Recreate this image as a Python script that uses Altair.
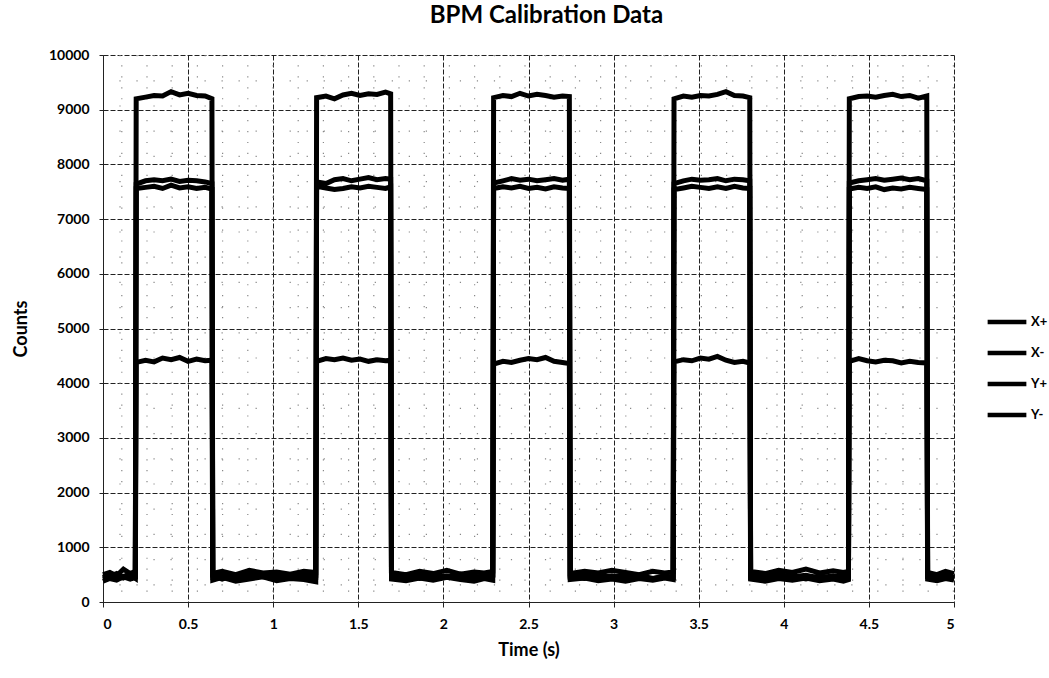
import altair as alt
import pandas as pd

# ---- data ----
t_low0 = [0.00, 0.04, 0.08, 0.12, 0.16, 0.19]
t_high1 = [0.195, 0.25, 0.30, 0.35, 0.40, 0.45, 0.50, 0.55, 0.60, 0.64]
t_low1 = [0.645, 0.70, 0.78, 0.86, 0.94, 1.02, 1.10, 1.18, 1.25]
t_high2 = [1.255, 1.31, 1.36, 1.41, 1.46, 1.51, 1.56, 1.61, 1.66, 1.69]
t_low2 = [1.695, 1.78, 1.86, 1.94, 2.02, 2.10, 2.18, 2.24, 2.29]
t_high3 = [2.295, 2.35, 2.40, 2.45, 2.50, 2.55, 2.60, 2.65, 2.70, 2.74]
t_low3 = [2.745, 2.83, 2.91, 2.99, 3.07, 3.15, 3.23, 3.30, 3.35]
t_high4 = [3.355, 3.41, 3.46, 3.51, 3.56, 3.61, 3.66, 3.71, 3.76, 3.80]
t_low4 = [3.805, 3.89, 3.97, 4.05, 4.13, 4.21, 4.29, 4.35, 4.38]
t_high5 = [4.385, 4.44, 4.49, 4.54, 4.59, 4.64, 4.69, 4.74, 4.79, 4.84]
t_low5 = [4.845, 4.90, 4.95, 5.00]

time = (t_low0 + t_high1 + t_low1 + t_high2 + t_low2 + t_high3 +
        t_low3 + t_high4 + t_low4 + t_high5 + t_low5)

x_plus = ([500, 540, 480, 600, 520, 560] +
          [9200, 9230, 9260, 9250, 9330, 9270, 9300, 9260, 9250, 9200] +
          [520, 560, 500, 580, 530, 550, 510, 560, 540] +
          [9220, 9250, 9200, 9270, 9300, 9260, 9290, 9280, 9320, 9290] +
          [540, 500, 560, 520, 580, 510, 550, 530, 560] +
          [9220, 9260, 9240, 9300, 9250, 9280, 9260, 9230, 9250, 9240] +
          [520, 560, 530, 580, 540, 500, 560, 530, 550] +
          [9200, 9250, 9230, 9260, 9250, 9280, 9330, 9260, 9250, 9220] +
          [560, 520, 580, 540, 600, 530, 570, 540, 560] +
          [9200, 9240, 9250, 9230, 9260, 9280, 9240, 9260, 9210, 9250] +
          [540, 500, 560, 520])

x_minus = ([450, 500, 430, 470, 510, 480] +
           [7640, 7700, 7720, 7700, 7730, 7690, 7710, 7700, 7680, 7650] +
           [450, 480, 430, 500, 460, 420, 470, 440, 480] +
           [7680, 7650, 7720, 7740, 7700, 7730, 7760, 7720, 7740, 7730] +
           [470, 440, 490, 450, 480, 430, 470, 450, 490] +
           [7660, 7700, 7740, 7710, 7730, 7700, 7720, 7740, 7710, 7730] +
           [460, 490, 440, 480, 450, 490, 430, 470, 450] +
           [7650, 7700, 7730, 7710, 7720, 7740, 7700, 7730, 7720, 7700] +
           [480, 450, 500, 460, 490, 440, 480, 450, 470] +
           [7660, 7700, 7720, 7740, 7710, 7730, 7750, 7720, 7740, 7700] +
           [460, 430, 480, 450])

y_plus = ([420, 470, 520, 440, 490, 430] +
          [7560, 7580, 7600, 7560, 7620, 7570, 7590, 7560, 7580, 7550] +
          [400, 450, 380, 420, 460, 390, 430, 410, 370] +
          [7600, 7570, 7540, 7560, 7590, 7570, 7600, 7580, 7560, 7590] +
          [420, 390, 440, 400, 450, 410, 380, 430, 400] +
          [7560, 7590, 7570, 7600, 7560, 7580, 7550, 7590, 7570, 7560] +
          [410, 440, 390, 420, 380, 430, 400, 440, 410] +
          [7540, 7570, 7600, 7580, 7560, 7590, 7560, 7600, 7570, 7560] +
          [420, 380, 430, 400, 440, 390, 420, 380, 410] +
          [7550, 7580, 7560, 7590, 7540, 7570, 7550, 7580, 7560, 7540] +
          [420, 390, 430, 400])

y_minus = ([380, 430, 400, 460, 420, 450] +
           [4380, 4420, 4390, 4460, 4430, 4470, 4400, 4440, 4410, 4420] +
           [480, 420, 500, 450, 520, 470, 440, 490, 460] +
           [4400, 4450, 4430, 4460, 4420, 4440, 4400, 4430, 4410, 4420] +
           [460, 500, 430, 480, 450, 510, 470, 440, 480] +
           [4350, 4400, 4380, 4420, 4450, 4430, 4470, 4400, 4380, 4360] +
           [470, 430, 490, 450, 500, 460, 420, 480, 450] +
           [4390, 4430, 4410, 4460, 4440, 4490, 4420, 4380, 4400, 4370] +
           [450, 490, 430, 470, 420, 480, 440, 500, 460] +
           [4400, 4450, 4410, 4390, 4420, 4410, 4370, 4400, 4380, 4370] +
           [470, 430, 480, 440])

series_names = ["X+", "X-", "Y+", "Y-"]
series_values = [x_plus, x_minus, y_plus, y_minus]

minor_x = [0.1, 0.2, 0.3, 0.4, 0.6, 0.7, 0.8, 0.9, 1.1, 1.2, 1.3, 1.4,
           1.6, 1.7, 1.8, 1.9, 2.1, 2.2, 2.3, 2.4, 2.6, 2.7, 2.8, 2.9,
           3.1, 3.2, 3.3, 3.4, 3.6, 3.7, 3.8, 3.9, 4.1, 4.2, 4.3, 4.4,
           4.6, 4.7, 4.8, 4.9]
minor_y = [200, 400, 600, 800, 1200, 1400, 1600, 1800, 2200, 2400, 2600, 2800,
           3200, 3400, 3600, 3800, 4200, 4400, 4600, 4800, 5200, 5400, 5600, 5800,
           6200, 6400, 6600, 6800, 7200, 7400, 7600, 7800, 8200, 8400, 8600, 8800,
           9200, 9400, 9600, 9800]

x_ticks = [0, 0.5, 1, 1.5, 2, 2.5, 3, 3.5, 4, 4.5, 5]
y_ticks = [0, 1000, 2000, 3000, 4000, 5000, 6000, 7000, 8000, 9000, 10000]

rows = []
for name, vals in zip(series_names, series_values):
    for t, v in zip(time, vals):
        rows.append({"Time": t, "Counts": v, "Series": name})
df = pd.DataFrame(rows)

FONT = "Lato"

xscale = alt.Scale(domain=[0, 5], nice=False)
yscale = alt.Scale(domain=[0, 10000], nice=False)

axis_style = dict(grid=True, gridColor="#222", gridDash=[5, 2], gridWidth=1,
                  domainColor="#222", tickColor="#222",
                  labelFont=FONT, labelFontSize=14, labelFontWeight="bold",
                  labelColor="#000", titleFont=FONT, titleFontSize=18,
                  titleFontWeight="bold", titleColor="#000")

xaxis = alt.Axis(title="Time (s)", values=x_ticks, format="~g",
                 tickSize=5, labelPadding=10, titlePadding=10, **axis_style)
yaxis = alt.Axis(title="Counts", values=y_ticks, format="d",
                 tickSize=4, labelPadding=10, titlePadding=18, **axis_style)

minor_v = alt.Chart(pd.DataFrame({"x": minor_x})).mark_rule(
    color="#888", strokeWidth=1.2, strokeDash=[1.2, 24]
).encode(x=alt.X("x:Q", scale=xscale, axis=xaxis))

minor_h = alt.Chart(pd.DataFrame({"y": minor_y})).mark_rule(
    color="#888", strokeWidth=1.2, strokeDash=[1.2, 24]
).encode(y=alt.Y("y:Q", scale=yscale, axis=yaxis))

lines = alt.Chart(df).mark_line(strokeWidth=5, strokeJoin="miter").encode(
    x=alt.X("Time:Q", scale=xscale, axis=xaxis),
    y=alt.Y("Counts:Q", scale=yscale, axis=yaxis),
    color=alt.Color("Series:N", sort=series_names,
                    scale=alt.Scale(domain=series_names, range=["#000000"] * 4),
                    legend=alt.Legend(title=None, orient="none", legendX=882, legendY=245,
                                      symbolType="stroke", symbolSize=1500,
                                      symbolStrokeWidth=4.5, rowPadding=-7,
                                      labelFontSize=13, labelFont=FONT,
                                      labelFontWeight="bold", labelColor="#000",
                                      labelOffset=2)),
    detail="Series:N",
    order="Time:Q",
)

chart = alt.layer(minor_v, minor_h, lines).properties(
    width=851, height=547,
    background="white",
    autosize=alt.AutoSizeParams(type="none"),
    padding={"left": 103, "top": 55, "right": 95, "bottom": 76},
    title=alt.TitleParams("BPM Calibration Data", font=FONT, fontSize=24,
                          fontWeight="bold", color="#000", anchor="middle",
                          dx=18, offset=20),
).configure_view(stroke=None)

chart.save("out.html", embed_options={"renderer": "svg", "actions": False})
